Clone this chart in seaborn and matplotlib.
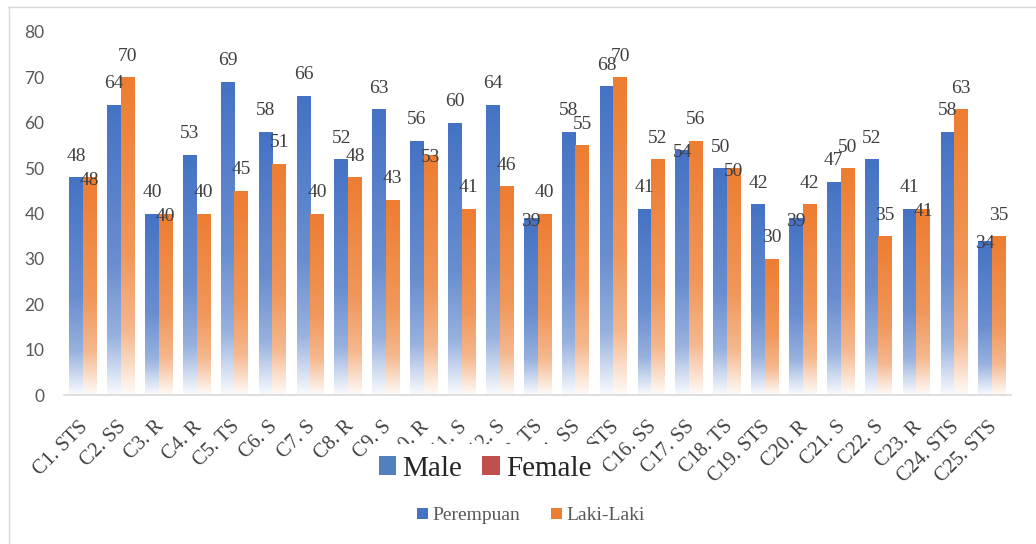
import numpy as np
import pandas as pd
import matplotlib
matplotlib.use("Agg")
import matplotlib.pyplot as plt
import seaborn as sns
from matplotlib.patches import Patch
from matplotlib.lines import Line2D
from matplotlib.colors import to_rgb
import matplotlib.transforms as mtransforms

# ---- data -------------------------------------------------------------
categories = ["C1. STS", "C2. SS", "C3. R", "C4. R", "C5. TS", "C6. S", "C7. S",
              "C8. R", "C9. S", "C10. R", "C11. S", "C12. S", "C13. TS", "C14. SS",
              "C15. STS", "C16. SS", "C17. SS", "C18. TS", "C19. STS", "C20. R",
              "C21. S", "C22. S", "C23. R", "C24. STS", "C25. STS"]
perempuan = [48, 64, 40, 53, 69, 58, 66, 52, 63, 56, 60, 64, 39, 58, 68, 41,
             54, 50, 42, 39, 47, 52, 41, 58, 34]
laki_laki = [48, 70, 40, 40, 45, 51, 40, 48, 43, 53, 41, 46, 40, 55, 70, 52,
             56, 50, 30, 42, 50, 35, 41, 63, 35]
series_names = ["Perempuan", "Laki-Laki"]
y_ticks = [0, 10, 20, 30, 40, 50, 60, 70, 80]
extra_legend = ["Male", "Female"]

# ---- styling ----------------------------------------------------------
series_colors = ["#4472C4", "#ED7D31"]
extra_colors = ["#4F81BD", "#C0504D"]
# value labels pushed down onto the bar top to avoid overlapping the neighbour
sunk_labels = {("Laki-Laki", 0), ("Laki-Laki", 2), ("Laki-Laki", 9),
               ("Laki-Laki", 17), ("Laki-Laki", 22),
               ("Perempuan", 12), ("Perempuan", 16), ("Perempuan", 19),
               ("Perempuan", 24)}

SERIF = "Liberation Serif"
SANS = "Lato"
TXT = "#404040"

df = pd.DataFrame({
    "category": categories * 2,
    "value": perempuan + laki_laki,
    "series": [series_names[0]] * len(categories) + [series_names[1]] * len(categories),
})

sns.set_theme(style="white")
plt.rcParams["font.family"] = [SERIF, "DejaVu Serif"]

W, H = 1036, 544
fig = plt.figure(figsize=(W / 100, H / 100), dpi=100)
ax = fig.add_axes([64 / W, 1 - 395 / H, (1011 - 64) / W, (395 - 32) / H])

sns.barplot(data=df, x="category", y="value", hue="series", order=categories,
            hue_order=series_names, palette=series_colors, width=0.72,
            dodge=True, legend=False, saturation=1, ax=ax)


def gradient(color, n=256):
    base = np.array(to_rgb(color))
    t = np.linspace(0, 1, n)  # 0 = top of bar, 1 = baseline
    mix = np.interp(t, [0.0, 0.55, 0.8, 1.0], [0.0, 0.2, 0.45, 0.97])
    rgb = base[None, :] * (1 - mix[:, None]) + mix[:, None]
    return rgb[:, None, :]


# gradient fill for every bar, fading towards the baseline
for name, color, container in zip(series_names, series_colors, ax.containers):
    img = gradient(color)
    for bar in container:
        x0, y0 = bar.get_x(), bar.get_y()
        w, h = bar.get_width(), bar.get_height()
        bar.set_facecolor("none")
        bar.set_edgecolor("none")
        im = ax.imshow(img, extent=[x0, x0 + w, y0, y0 + h], origin="upper",
                       aspect="auto", zorder=2, interpolation="bilinear")
        im.set_clip_path(bar)

# value labels
for name, container in zip(series_names, ax.containers):
    for i, bar in enumerate(container):
        v = bar.get_height()
        xc = bar.get_x() + bar.get_width() / 2
        dy = -3 if (name, i) in sunk_labels else 21
        ax.annotate(f"{v:.0f}", (xc, v), xytext=(0, dy), textcoords="offset pixels",
                    ha="center", va="center", fontsize=14, color=TXT,
                    family=SERIF, zorder=5)

ax.set_xlim(-0.5, len(categories) - 0.5)
ax.set_ylim(0, 80)
ax.set_yticks(y_ticks)
ax.set_yticklabels([str(t) for t in y_ticks], family=SANS, fontsize=12.5,
                   color="#595959")
ax.tick_params(axis="y", length=0, pad=14)
ax.tick_params(axis="x", length=0, pad=16)
ax.set_xticks(range(len(categories)))
ax.set_xticklabels(categories, rotation=45, ha="right", rotation_mode="anchor",
                   fontsize=14.5, color=TXT, family=SERIF)
shift = mtransforms.ScaledTranslation(-4 / 100, 0, fig.dpi_scale_trans)
for lab in ax.get_xticklabels():
    lab.set_transform(lab.get_transform() + shift)

ax.set_xlabel("")
ax.set_ylabel("")
ax.grid(False)
for s in ["top", "right", "left"]:
    ax.spines[s].set_visible(False)
ax.spines["bottom"].set_color("#d9d9d9")
ax.spines["bottom"].set_linewidth(1.2)
ax.set_facecolor("none")

# chart frame
fig.add_artist(Line2D([8 / W, 1], [1 - 6.5 / H, 1 - 6.5 / H], color="#d9d9d9", lw=1.0))
fig.add_artist(Line2D([8.5 / W, 8.5 / W], [0, 1 - 6.5 / H], color="#d9d9d9", lw=1.0))

# large legend box overlaying the axis labels
big = fig.legend(handles=[Patch(facecolor=c, edgecolor="none") for c in extra_colors],
                 labels=extra_legend, loc="center", bbox_to_anchor=(485 / W, 1 - 469 / H),
                 ncol=2, frameon=True, facecolor="white", edgecolor="none",
                 framealpha=1, fancybox=False, borderpad=0.4, handlelength=0.6,
                 handleheight=0.6, handletextpad=0.2, columnspacing=0.7,
                 prop={"family": SERIF, "size": 21})
for t in big.get_texts():
    t.set_color("#262626")

small = fig.legend(handles=[Patch(facecolor=c, edgecolor="none") for c in series_colors],
                   labels=series_names, loc="center", bbox_to_anchor=(531 / W, 1 - 516 / H),
                   ncol=2, frameon=False, handlelength=0.55, handleheight=0.55,
                   handletextpad=0.25, columnspacing=1.6,
                   prop={"family": SERIF, "size": 14})
for t in small.get_texts():
    t.set_color("#595959")

fig.savefig("out.png", dpi=100, facecolor="white")
